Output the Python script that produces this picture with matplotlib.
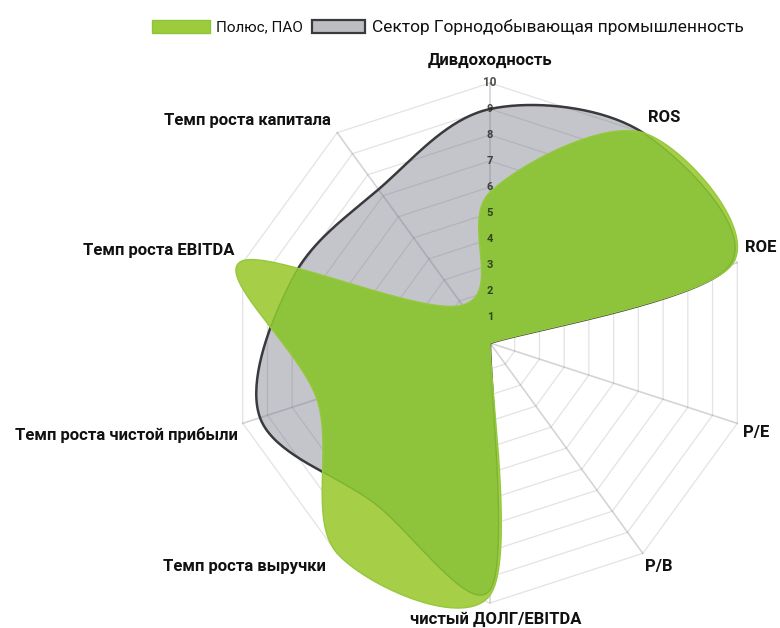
import numpy as np
import matplotlib
matplotlib.use('Agg')
import matplotlib.pyplot as plt
from matplotlib.patches import Rectangle

plt.rcParams['font.family'] = ['Liberation Sans Narrow', 'Roboto', 'DejaVu Sans']

# axes, clockwise from the top
axis_names = ['Дивдоходность', 'ROS', 'ROE', 'P/E', 'P/B', 'чистый ДОЛГ/EBITDA',
              'Темп роста выручки', 'Темп роста чистой прибыли',
              'Темп роста EBITDA', 'Темп роста капитала']
polyus = [5.8, 10.0, 9.8, 0.0, 0.0, 9.7, 10.0, 7.0, 10.1, 1.8]
sector = [9.0, 10.0, 9.7, 0.0, 0.0, 9.5, 7.6, 9.3, 8.0, 7.3]
ticks = list(range(1, 11))
series_names = ['Полюс, ПАО', 'Сектор Горнодобывающая промышленность']

n = len(axis_names)
ang = np.pi / 2 - np.arange(n) * 2 * np.pi / n


def to_xy(vals):
    v = np.asarray(vals, float)
    return np.column_stack([v * np.cos(ang), v * np.sin(ang)])


def smooth(pts, steps=40):
    # closed catmull-rom through the axis points
    out = []
    m = len(pts)
    t = np.linspace(0, 1, steps, endpoint=False)[:, None]
    for i in range(m):
        p0, p1, p2, p3 = pts[i - 1], pts[i], pts[(i + 1) % m], pts[(i + 2) % m]
        if np.allclose(p1, p2):
            out.append(np.repeat(p1[None, :], steps, axis=0))
            continue
        c = 0.5 * ((2 * p1) + (-p0 + p2) * t + (2 * p0 - 5 * p1 + 4 * p2 - p3) * t ** 2
                   + (-p0 + 3 * p1 - 3 * p2 + p3) * t ** 3)
        out.append(c)
    out = np.vstack(out)
    return np.vstack([out, out[:1]])


fig = plt.figure(figsize=(7.8, 6.28), dpi=100)
ax = fig.add_axes([0, 0, 1, 1])
u = 26.0  # px per unit
cx, cy = 490, 343
ax.set_xlim(-cx / u, (780 - cx) / u)
ax.set_ylim(-(628 - cy) / u, cy / u)
ax.axis('off')

gs = smooth(to_xy(sector))
ps = smooth(to_xy(polyus))

# sector fill
ax.fill(gs[:, 0], gs[:, 1], color='#c3c5cb', lw=0, zorder=1)

# web, drawn see-through so it darkens on the gray
for r in ticks:
    ring = to_xy([r] * n)
    ring = np.vstack([ring, ring[:1]])
    ax.plot(ring[:, 0], ring[:, 1], color='#70737a', alpha=0.2, lw=0.9, zorder=2)
tips = to_xy([10] * n)
for x, y in tips:
    ax.plot([0, x], [0, y], color='#70737a', alpha=0.3, lw=1.2, zorder=2)

ax.plot(gs[:, 0], gs[:, 1], color='#3a3a3e', lw=1.8, zorder=3)

# polyus fill: light on white, darker where it covers the sector
green = ax.fill(ps[:, 0], ps[:, 1], color='#a6ce46', lw=0, zorder=4)[0]
dark = ax.fill(gs[:, 0], gs[:, 1], color='#8dc43c', lw=0, zorder=5)[0]
dark.set_clip_path(green)
edge = ax.plot(gs[:, 0], gs[:, 1], color='#7cb434', lw=1.0, zorder=6)[0]
edge.set_clip_path(green)
ax.plot(ps[:, 0], ps[:, 1], color='#96c83e', lw=1.0, zorder=6)

for r in ticks:
    ax.text(0, r, str(r), ha='center', va='center', fontsize=8.5 if r == 10 else 8,
            fontweight='bold', color='#1c2418', alpha=0.8, zorder=7)

# axis labels (pixel positions)
lab_pos = [(490, 60, 'center'), (648, 118, 'left'), (745, 247, 'left'),
           (743, 433, 'left'), (645, 567, 'left'), (496, 619, 'center'),
           (326, 567, 'right'), (238, 435, 'right'), (235, 250, 'right'),
           (331, 120, 'right')]
for name, (px, py, ha) in zip(axis_names, lab_pos):
    ax.text((px - cx) / u, (cy - py) / u, name, ha=ha, va='center', fontsize=12,
            fontweight='bold', color='#111111', zorder=8)


def px2d(px, py):
    return (px - cx) / u, (cy - py) / u


# legend
x0, y0 = px2d(152, 33)
ax.add_patch(Rectangle((x0, y0), 58 / u, 13 / u, facecolor='#9ccc3c', edgecolor='#8cc43a', lw=1))
tx, ty = px2d(216, 27)
ax.text(tx, ty, series_names[0], ha='left', va='center', fontsize=11, color='#111111')
x0, y0 = px2d(312, 33)
ax.add_patch(Rectangle((x0, y0), 53 / u, 13 / u, facecolor='#bdbec2', edgecolor='#3a3a3e', lw=1.6))
tx, ty = px2d(372, 27)
ax.text(tx, ty, series_names[1], ha='left', va='center', fontsize=12.5, color='#111111')

fig.savefig('out.png', dpi=100, facecolor='white')
